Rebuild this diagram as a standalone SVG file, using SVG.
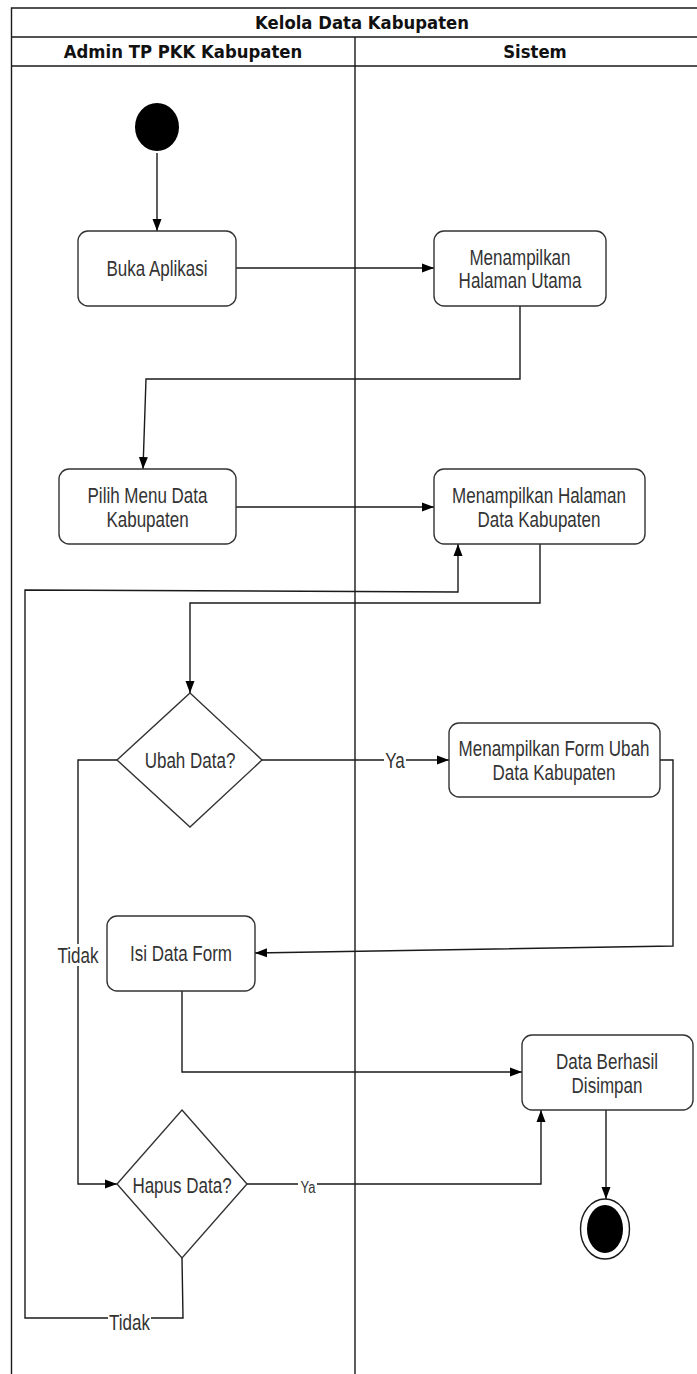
<svg xmlns="http://www.w3.org/2000/svg" width="697" height="1374" viewBox="0 0 697 1374">
<style>
.frame{fill:none;stroke:#1a1a1a;stroke-width:1.4}
.node{fill:#fff;stroke:#333;stroke-width:1.4}
.t{font-family:"Liberation Sans",Arial,sans-serif;font-size:17px;fill:#333;text-anchor:middle}
.h{font-family:"DejaVu Sans",Verdana,sans-serif;font-weight:bold;font-size:16.5px;fill:#111;text-anchor:middle}
.c{fill:none;stroke:#1a1a1a;stroke-width:1.4}
.lbl{font-family:"Liberation Sans",Arial,sans-serif;font-size:17px;fill:#333;text-anchor:middle}
.lbls{font-family:"Liberation Sans",Arial,sans-serif;font-size:13px;fill:#333;text-anchor:middle}
.bg{fill:#fff;stroke:none}
</style>
<defs>
<marker id="arr" viewBox="0 0 12 10" refX="12" refY="5" markerWidth="12" markerHeight="10" markerUnits="userSpaceOnUse" orient="auto">
<path d="M0,0.5 L12,5 L0,9.5 z" fill="#000"/>
</marker>
</defs>
<rect width="697" height="1374" fill="#fff"/>
<g id="pool">
<path class="frame" d="M11.5,1380 V8 H714 M11.5,37 H714 M11.5,66 H714 M355,37 V1380 M714,8 V1380"/>
<text class="h" transform="translate(362 22) scale(1 1.1)" y="6">Kelola Data Kabupaten</text>
<text class="h" transform="translate(183 51) scale(1 1.1)" y="6">Admin TP PKK Kabupaten</text>
<text class="h" transform="translate(535 51) scale(1 1.1)" y="6">Sistem</text>
</g>
<g id="connectors">
<path class="c" d="M157,153 V231" marker-end="url(#arr)"/>
<path class="c" d="M236,268 H434" marker-end="url(#arr)"/>
<path class="c" d="M520,306 V379 H146 L143,469" marker-end="url(#arr)"/>
<path class="c" d="M236,507 H434" marker-end="url(#arr)"/>
<path class="c" d="M540,544 V603 H190 V693" marker-end="url(#arr)"/>
<path class="c" d="M262,760 H449" marker-end="url(#arr)"/>
<path class="c" d="M660,760 H673 V946 L255,953" marker-end="url(#arr)"/>
<path class="c" d="M117,760 H78 V1184 H117" marker-end="url(#arr)"/>
<path class="c" d="M182,991 V1072 H522" marker-end="url(#arr)"/>
<path class="c" d="M247,1184 H541 V1110" marker-end="url(#arr)"/>
<path class="c" d="M606,1110 V1199" marker-end="url(#arr)"/>
<path class="c" d="M182,1258 L183,1318 H25 V590 L458,592 V544" marker-end="url(#arr)"/>
<rect class="bg" x="384" y="750" width="22" height="20"/>
<text class="lbl" transform="translate(395 760) scale(1 1.25)" y="6">Ya</text>
<rect class="bg" x="57" y="944" width="42" height="22"/>
<text class="lbl" transform="translate(78 955) scale(1 1.25)" y="6">Tidak</text>
<rect class="bg" x="298" y="1178" width="19" height="18"/>
<text class="lbls" transform="translate(308 1187) scale(1 1.25)" y="4.6">Ya</text>
<rect class="bg" x="108" y="1311" width="43" height="22"/>
<text class="lbl" transform="translate(129.5 1322) scale(1 1.25)" y="6">Tidak</text>
</g>
<g id="start">
<ellipse cx="157" cy="127" rx="22" ry="24" fill="#000"/>
</g>
<g id="buka">
<rect class="node" x="78" y="231" width="158" height="75" rx="10"/>
<text class="t" transform="translate(157 268) scale(1 1.25)" y="6">Buka Aplikasi</text>
</g>
<g id="utama">
<rect class="node" x="434" y="231" width="172" height="75" rx="10"/>
<text class="t" transform="translate(520 257) scale(1 1.25)" y="6">Menampilkan</text>
<text class="t" transform="translate(520 280) scale(1 1.25)" y="6">Halaman Utama</text>
</g>
<g id="pilih">
<rect class="node" x="59" y="469" width="177" height="75" rx="10"/>
<text class="t" transform="translate(147.5 495) scale(1 1.25)" y="6">Pilih Menu Data</text>
<text class="t" transform="translate(147.5 519) scale(1 1.25)" y="6">Kabupaten</text>
</g>
<g id="halaman">
<rect class="node" x="434" y="469" width="211" height="75" rx="10"/>
<text class="t" transform="translate(539 495) scale(1 1.25)" y="6">Menampilkan Halaman</text>
<text class="t" transform="translate(539 519) scale(1 1.25)" y="6">Data Kabupaten</text>
</g>
<g id="ubah">
<polygon class="node" points="190,693 262,760 190,827 117,760"/>
<text class="t" transform="translate(190 760) scale(1 1.25)" y="6">Ubah Data?</text>
</g>
<g id="formubah">
<rect class="node" x="449" y="723" width="211" height="74" rx="10"/>
<text class="t" transform="translate(554 748) scale(1 1.25)" y="6">Menampilkan Form Ubah</text>
<text class="t" transform="translate(554 772) scale(1 1.25)" y="6">Data Kabupaten</text>
</g>
<g id="isi">
<rect class="node" x="107" y="916" width="148" height="75" rx="10"/>
<text class="t" transform="translate(181 953) scale(1 1.25)" y="6">Isi Data Form</text>
</g>
<g id="berhasil">
<rect class="node" x="522" y="1035" width="171" height="75" rx="10"/>
<text class="t" transform="translate(607 1061) scale(1 1.25)" y="6">Data Berhasil</text>
<text class="t" transform="translate(607 1085) scale(1 1.25)" y="6">Disimpan</text>
</g>
<g id="hapus">
<polygon class="node" points="182,1110 247,1184 182,1258 117,1184"/>
<text class="t" transform="translate(182 1185) scale(1 1.25)" y="6">Hapus Data?</text>
</g>
<g id="end">
<ellipse cx="605" cy="1229" rx="24.5" ry="30" fill="#fff" stroke="#1a1a1a" stroke-width="1.4"/>
<ellipse cx="605" cy="1229" rx="18" ry="24" fill="#000"/>
</g>
</svg>
